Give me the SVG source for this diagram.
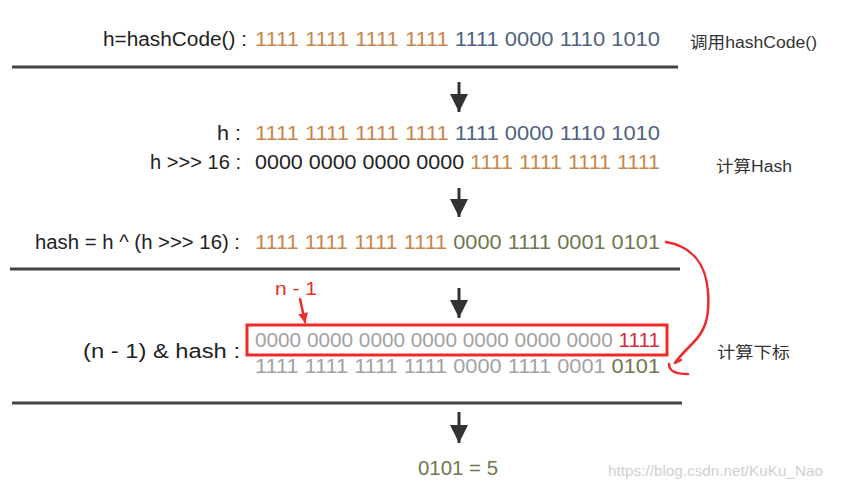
<svg xmlns="http://www.w3.org/2000/svg" width="841" height="489" viewBox="0 0 841 489">
<style>
.lbl{font-family:"Liberation Sans","Noto Sans CJK SC",sans-serif;font-size:20px;fill:#222}
.bits{font-family:"Liberation Sans",sans-serif;font-size:20px}
.cn{font-family:"Liberation Sans","Noto Sans CJK SC",sans-serif;font-size:16px;fill:#333}
.o{fill:#c8874c}.b{fill:#4f6381}.k{fill:#222}.g{fill:#6f7752}.gr{fill:#a2a2a2}.r{fill:#d42a3a}
.rule{stroke:#444;stroke-width:3}
.arr{stroke:#333;stroke-width:3;fill:none}
.red{stroke:#ee2a2a;stroke-width:2.5;fill:none;stroke-linecap:round;stroke-linejoin:round}
</style>
<defs>
<marker id="ah" viewBox="0 0 10 10" refX="10" refY="5" markerWidth="6" markerHeight="6" markerUnits="strokeWidth" orient="auto">
<path d="M0,0 L10,5 L0,10 z" fill="#333"/>
</marker>
<marker id="rh" viewBox="0 0 10 10" refX="9" refY="5" markerWidth="4" markerHeight="5" markerUnits="strokeWidth" orient="auto">
<path d="M0,0 L10,5 L0,10 z" fill="#ee2a2a"/>
</marker>
</defs>
<rect width="841" height="489" fill="#fff"/>

<g id="row-hashcode">
<text class="lbl" x="103" y="46" textLength="144" lengthAdjust="spacingAndGlyphs">h=hashCode() :</text>
<text class="bits" x="255" y="46" textLength="405" lengthAdjust="spacingAndGlyphs"><tspan class="o">1111 1111 1111 1111 </tspan><tspan class="b">1111 0000 1110 1010</tspan></text>
<text class="cn" x="690" y="48" textLength="127" lengthAdjust="spacingAndGlyphs">调用hashCode()</text>
</g>

<g id="row-h">
<text class="lbl" x="217" y="140" textLength="24" lengthAdjust="spacingAndGlyphs">h :</text>
<text class="bits" x="255" y="140" textLength="405" lengthAdjust="spacingAndGlyphs"><tspan class="o">1111 1111 1111 1111 </tspan><tspan class="b">1111 0000 1110 1010</tspan></text>
</g>

<g id="row-shift">
<text class="lbl" x="150" y="169" textLength="91" lengthAdjust="spacingAndGlyphs">h &gt;&gt;&gt; 16 :</text>
<text class="bits" x="255" y="169" textLength="405" lengthAdjust="spacingAndGlyphs"><tspan class="k">0000 0000 0000 0000 </tspan><tspan class="o">1111 1111 1111 1111</tspan></text>
<text class="cn" x="716" y="172" textLength="76" lengthAdjust="spacingAndGlyphs">计算Hash</text>
</g>

<g id="row-hash">
<text class="lbl" x="35" y="249" textLength="205" lengthAdjust="spacingAndGlyphs">hash = h ^ (h &gt;&gt;&gt; 16) :</text>
<text class="bits" x="255" y="249" textLength="405" lengthAdjust="spacingAndGlyphs"><tspan class="o">1111 1111 1111 1111 </tspan><tspan class="g">0000 1111 0001 0101</tspan></text>
</g>

<g id="row-index">
<text class="lbl" x="83" y="358" textLength="157" lengthAdjust="spacingAndGlyphs">(n  -  1) &amp; hash :</text>
<rect x="247" y="325" width="420" height="30" fill="none" stroke="#ee2a2a" stroke-width="3"/>
<text class="bits" x="255" y="347" textLength="405" lengthAdjust="spacingAndGlyphs"><tspan class="gr">0000 0000 0000 0000 0000 0000 0000 </tspan><tspan class="r">1111</tspan></text>
<text class="bits" x="255" y="373" textLength="405" lengthAdjust="spacingAndGlyphs"><tspan class="gr">1111 1111 1111 1111 0000 1111 0001 </tspan><tspan class="g">0101</tspan></text>
<text class="cn" x="717" y="358" textLength="73" lengthAdjust="spacingAndGlyphs">计算下标</text>
</g>

<g id="n-minus-1">
<text x="275" y="295" font-family="Liberation Sans,sans-serif" font-size="18" fill="#ee2a2a" textLength="42" lengthAdjust="spacingAndGlyphs">n - 1</text>
</g>

<g id="result">
<text class="bits" x="418" y="475" textLength="80" lengthAdjust="spacingAndGlyphs"><tspan class="g">0101 = 5</tspan></text>
</g>

<g id="rules">
<line class="rule" x1="12" y1="67" x2="678" y2="67"/>
<line class="rule" x1="10" y1="269" x2="680" y2="269"/>
<line class="rule" x1="12" y1="403" x2="682" y2="403"/>
</g>

<g id="connectors">
<line class="arr" x1="459" y1="82" x2="459" y2="112" marker-end="url(#ah)"/>
<line class="arr" x1="459" y1="188" x2="459" y2="217" marker-end="url(#ah)"/>
<line class="arr" x1="459" y1="288" x2="459" y2="318" marker-end="url(#ah)"/>
<line class="arr" x1="459" y1="412" x2="459" y2="443" marker-end="url(#ah)"/>
<line class="red" x1="300" y1="299" x2="305" y2="322" marker-end="url(#rh)"/>
<path class="red" d="M666,242 C690,246 706,262 708,292 C710,320 704,332 692,344 C684,352 678,358 675,363 L681,360"/>
<path class="red" d="M669,364 C669,370 673,374 688,374"/>
</g>

<text x="608" y="476" font-family="Liberation Sans,sans-serif" font-size="15" fill="#cfcfcf" textLength="215" lengthAdjust="spacingAndGlyphs">https://blog.csdn.net/KuKu_Nao</text>
</svg>
